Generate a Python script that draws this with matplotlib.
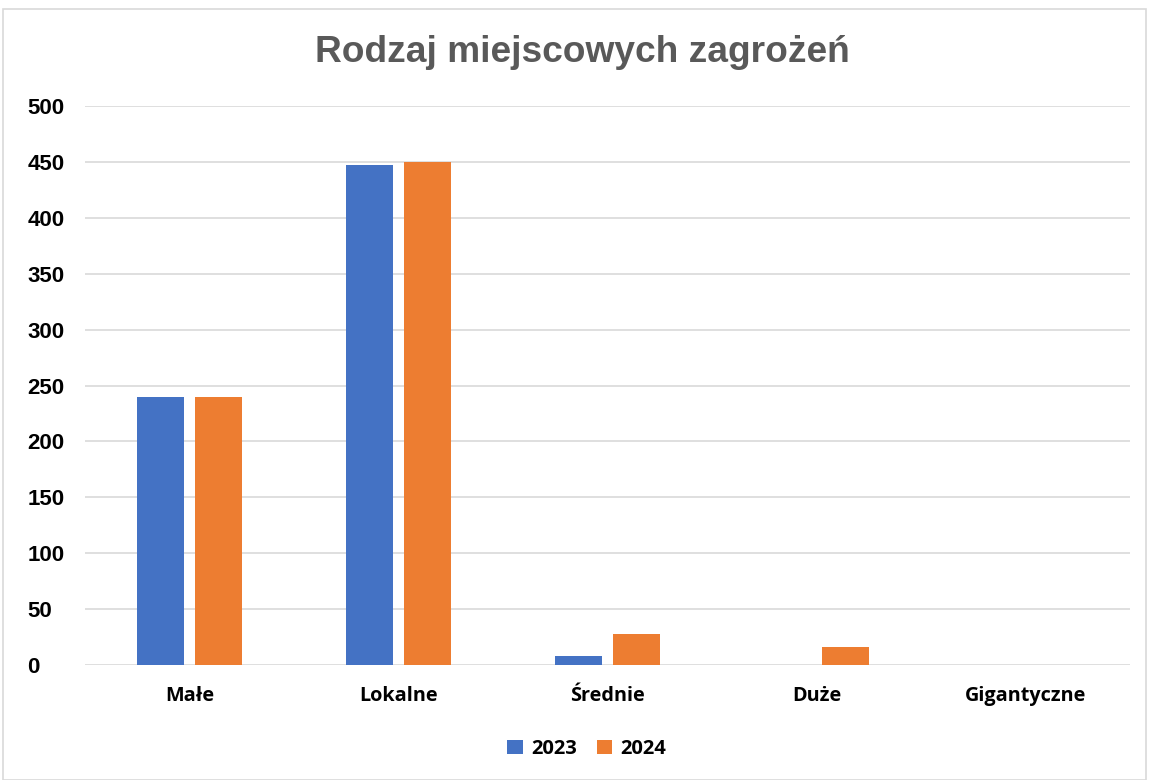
import numpy as np
import matplotlib
matplotlib.use("Agg")
import matplotlib.pyplot as plt
from matplotlib.patches import Rectangle

# dane
kategorie = ["Małe", "Lokalne", "Średnie", "Duże", "Gigantyczne"]
lata = ["2023", "2024"]
v2023 = [240, 447, 8, 0, 0]
v2024 = [240, 450, 28, 16, 0]
kolory = ["#4472C4", "#ED7D31"]

fig = plt.figure(figsize=(11.49, 7.8), dpi=100)
ax = fig.add_axes([85 / 1149, 1 - 665 / 780, 1045 / 1149, 559 / 780])

x = np.arange(len(kategorie))
w = 0.225
off = 0.141
ax.bar(x - off, v2023, w, color=kolory[0], label=lata[0], zorder=3)
ax.bar(x + off, v2024, w, color=kolory[1], label=lata[1], zorder=3)

ax.set_xlim(-0.5, len(kategorie) - 0.5)
ax.set_ylim(0, 500)
ax.set_yticks(range(0, 501, 50))
ax.yaxis.grid(True, color="#d9d9d9", linewidth=1.2, zorder=0)
for s in ax.spines.values():
    s.set_visible(False)
ax.tick_params(axis="both", length=0)
ax.set_xticks(x)
ax.set_xticklabels(kategorie, fontsize=14.3, fontweight="bold", family="Open Sans")
ax.tick_params(axis="x", pad=15)
for lab in ax.get_yticklabels():
    lab.set_fontsize(16)
    lab.set_fontweight("bold")
    lab.set_family("Liberation Sans")
    lab.set_horizontalalignment("left")
ax.tick_params(axis="y", pad=41.5)

fig.text(582.5 / 1149, 1 - 53 / 780, "Rodzaj miejscowych zagrożeń", ha="center", va="center",
         fontsize=26.7, fontweight="bold", color="#595959", family="Liberation Sans")

leg = fig.legend(loc="center", bbox_to_anchor=(587 / 1149, 1 - 749 / 780), ncol=2, frameon=False,
                 prop={"family": "Open Sans", "weight": "bold", "size": 14.5},
                 handlelength=0.75, handleheight=0.75, handletextpad=0.45, columnspacing=0.95)

# ramka wykresu
fig.patches.append(Rectangle((3 / 1149, 0), 1143 / 1149, 1 - 9 / 780, transform=fig.transFigure,
                             fill=False, edgecolor="#d9d9d9", linewidth=1.2))

fig.savefig("out.png", dpi=100, facecolor="white")
